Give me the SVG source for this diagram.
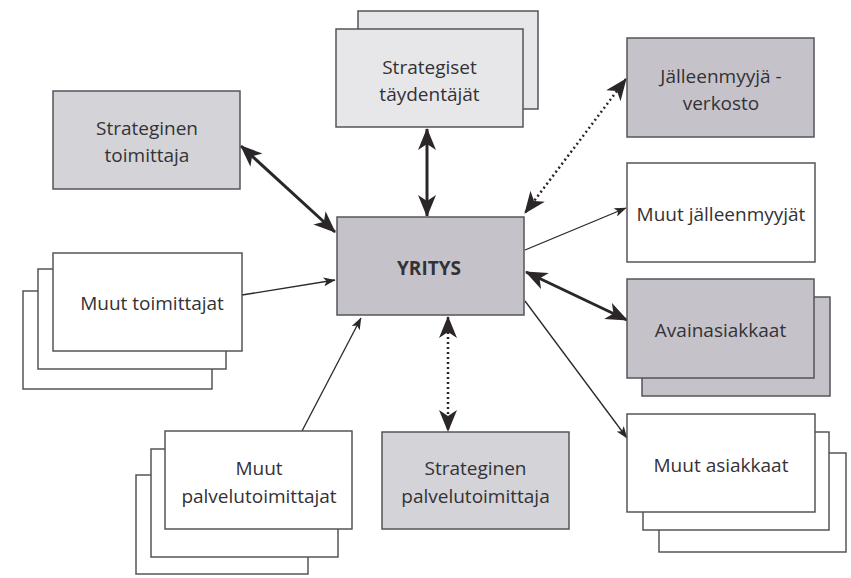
<svg xmlns="http://www.w3.org/2000/svg" width="851" height="578" viewBox="0 0 851 578">
<defs>
<style>
.box{stroke:#555459;stroke-width:1.5}
.w{fill:#ffffff}
.g1{fill:#c5c3c9}
.g2{fill:#d4d3d7}
.g3{fill:#e7e7e9}
.t{font-family:"Open Sans","Liberation Sans",sans-serif;font-size:19px;fill:#333236;text-anchor:middle}
.b{font-weight:bold}
.thick{stroke:#2a2629;stroke-width:3;fill:none}
.thin{stroke:#2a2629;stroke-width:1.3;fill:none}
.dot{stroke:#2a2629;stroke-width:2.5;fill:none;stroke-dasharray:2 3}
</style>
<marker id="big" viewBox="0 0 22 18" refX="21" refY="9" markerWidth="22" markerHeight="18" markerUnits="userSpaceOnUse" orient="auto-start-reverse">
<path d="M0,0 L22,9 L0,18 L6,9 z" fill="#2a2629"/>
</marker>
<marker id="small" viewBox="0 0 12 9" refX="11.5" refY="4.5" markerWidth="12" markerHeight="9" markerUnits="userSpaceOnUse" orient="auto">
<path d="M0,0 L12,4.5 L0,9 L3,4.5 z" fill="#2a2629"/>
</marker>
</defs>
<rect width="851" height="578" fill="#ffffff"/>

<g id="connectors">
<line class="thick" x1="241" y1="146" x2="335" y2="232" marker-start="url(#big)" marker-end="url(#big)"/>
<line class="thick" x1="427" y1="129" x2="427" y2="216" marker-start="url(#big)" marker-end="url(#big)"/>
<line class="dot" x1="626" y1="79" x2="525" y2="213" marker-start="url(#big)" marker-end="url(#big)"/>
<line class="thin" x1="525" y1="250" x2="626" y2="208" marker-end="url(#small)"/>
<line class="thick" x1="526" y1="272" x2="627" y2="320" marker-start="url(#big)" marker-end="url(#big)"/>
<line class="thin" x1="525" y1="301" x2="627" y2="438" marker-end="url(#small)"/>
<line class="dot" x1="448" y1="317" x2="448" y2="431" marker-start="url(#big)" marker-end="url(#big)"/>
<line class="thin" x1="302" y1="431" x2="361" y2="318" marker-end="url(#small)"/>
<line class="thin" x1="242" y1="295" x2="335" y2="280" marker-end="url(#small)"/>
</g>

<g id="strateginen-toimittaja">
<rect class="box g2" x="53" y="91" width="187" height="98"/>
<text class="t" x="147" y="135">Strateginen</text>
<text class="t" x="147" y="162">toimittaja</text>
</g>

<g id="strategiset-taydentajat">
<rect class="box g3" x="358" y="11" width="180" height="98"/>
<rect class="box g3" x="336" y="29" width="187" height="98"/>
<text class="t" x="429.5" y="74">Strategiset</text>
<text class="t" x="429.5" y="101">täydentäjät</text>
</g>

<g id="jalleenmyyja-verkosto">
<rect class="box g1" x="627" y="38" width="187" height="99"/>
<text class="t" x="721" y="83">Jälleenmyyjä -</text>
<text class="t" x="721" y="110">verkosto</text>
</g>

<g id="yritys">
<rect class="box g1" x="337" y="217" width="187" height="98"/>
<text class="t b" x="429" y="275">YRITYS</text>
</g>

<g id="muut-jalleenmyyjat">
<rect class="box w" x="627" y="163" width="188" height="99"/>
<text class="t" x="721" y="221">Muut jälleenmyyjät</text>
</g>

<g id="avainasiakkaat">
<rect class="box g1" x="642" y="297" width="188" height="99"/>
<rect class="box g1" x="627" y="279" width="187" height="99"/>
<text class="t" x="720.5" y="337">Avainasiakkaat</text>
</g>

<g id="muut-asiakkaat">
<rect class="box w" x="659" y="453" width="187" height="99"/>
<rect class="box w" x="643" y="432" width="186" height="98"/>
<rect class="box w" x="627" y="414" width="188" height="98"/>
<text class="t" x="721" y="472">Muut asiakkaat</text>
</g>

<g id="strateginen-palvelutoimittaja">
<rect class="box g2" x="382" y="432" width="187" height="97"/>
<text class="t" x="475.5" y="475">Strateginen</text>
<text class="t" x="475.5" y="503">palvelutoimittaja</text>
</g>

<g id="muut-palvelutoimittajat">
<rect class="box w" x="136" y="475" width="172" height="99"/>
<rect class="box w" x="151" y="449" width="187" height="108"/>
<rect class="box w" x="165" y="431" width="187" height="98"/>
<text class="t" x="259" y="475">Muut</text>
<text class="t" x="259" y="503">palvelutoimittajat</text>
</g>

<g id="muut-toimittajat">
<rect class="box w" x="23" y="291" width="189" height="98"/>
<rect class="box w" x="38" y="269" width="188" height="100"/>
<rect class="box w" x="53" y="253" width="189" height="98"/>
<text class="t" x="152" y="310">Muut toimittajat</text>
</g>
</svg>
